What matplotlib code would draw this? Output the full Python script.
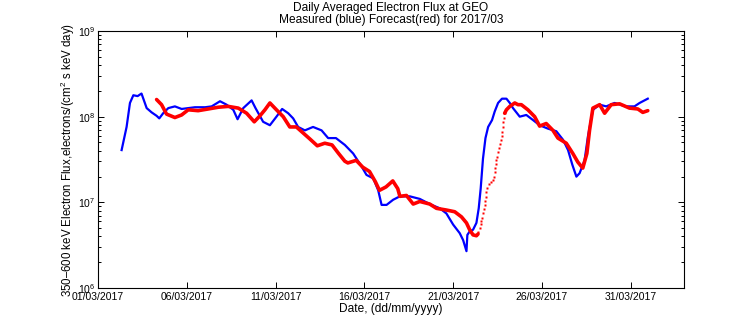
import numpy as np
import matplotlib
matplotlib.use("Agg")
import matplotlib.pyplot as plt
from matplotlib.ticker import LogLocator, NullFormatter, FixedLocator

plt.rcParams['font.family'] = ['Liberation Sans', 'DejaVu Sans']
plt.rcParams['mathtext.fontset'] = 'custom'
plt.rcParams['mathtext.rm'] = 'Liberation Sans'

# days since 01/03/2017 00:00, log10 flux
meas_days = [1.33, 1.61, 1.80, 1.99, 2.23, 2.45, 2.74, 3.02, 3.30, 3.45, 3.67, 3.96, 4.33, 4.71,
             5.46, 6.03, 6.40, 6.87, 7.24, 7.62, 7.86, 8.18, 8.65, 8.87, 9.30, 9.68, 10.05,
             10.37, 10.71, 10.99, 11.27, 11.65, 12.11, 12.59, 12.96, 13.40, 13.90, 14.37,
             14.84, 15.12, 15.50, 15.78, 15.97, 16.25, 16.62, 17.00, 17.56, 18.12, 18.68,
             19.25, 19.62, 20.00, 20.37, 20.56, 20.75, 20.80, 20.93, 21.12, 21.31, 21.44,
             21.55, 21.68, 21.82, 21.97, 22.19, 22.34, 22.53, 22.75, 23.00, 23.19, 23.37,
             23.75, 24.12, 24.50, 24.87, 25.34, 25.81, 26.19, 26.47, 26.71, 26.94, 27.12,
             27.40, 27.59, 27.87, 28.25, 28.62, 29.09, 29.74, 30.21, 30.50, 30.96]
meas_log10 = [7.61, 7.88, 8.16, 8.25, 8.24, 8.27, 8.10, 8.05, 8.01, 7.98, 8.04, 8.10, 8.12, 8.09,
              8.11, 8.11, 8.12, 8.18, 8.14, 8.08, 7.97, 8.10, 8.19, 8.10, 7.94, 7.90, 8.00,
              8.09, 8.04, 7.98, 7.88, 7.84, 7.88, 7.84, 7.75, 7.75, 7.67, 7.57,
              7.42, 7.32, 7.28, 7.14, 6.97, 6.97, 7.03, 7.07, 7.07, 7.04, 6.98,
              6.93, 6.87, 6.74, 6.64, 6.56, 6.43, 6.62, 6.66, 6.68, 6.76, 6.93,
              7.16, 7.51, 7.75, 7.88, 7.96, 8.06, 8.16, 8.21, 8.21, 8.16, 8.10,
              8.00, 8.02, 7.96, 7.90, 7.86, 7.83, 7.73, 7.61, 7.44, 7.30, 7.34,
              7.49, 7.77, 8.08, 8.14, 8.12, 8.16, 8.12, 8.12, 8.16, 8.21]

# forecast, densely sampled parts (NaN = gap where samples are sparse)
fc_days = [3.30, 3.58, 3.86, 4.33, 4.71, 5.08, 5.64, 6.21, 6.77, 7.33, 7.90, 8.37, 8.80, 9.12,
           9.40, 9.68, 10.05, 10.43, 10.80, 11.17, 11.55, 11.93, 12.35, 12.77, 13.18, 13.55,
           13.90, 14.07, 14.54, 14.91, 15.29, 15.62, 15.85, 16.22, 16.60, 16.88, 17.00, 17.37,
           17.75, 18.12, 18.68, 19.06, 19.62, 20.09, 20.47, 20.75, 20.93, 21.12, 21.31, 21.40,
           np.nan,
           22.90, 23.00, 23.19, 23.47, 23.65, 23.84, 24.21, 24.59, 24.87, 25.24, 25.62, 25.90,
           26.37, 26.74, 27.02, 27.30, 27.53, 27.68, 27.87, 28.25, 28.53, 28.90, 29.37, 29.93,
           30.40, 30.68, 30.96]
fc_log10 = [8.20, 8.14, 8.03, 7.99, 8.02, 8.08, 8.07, 8.09, 8.11, 8.12, 8.10, 8.04, 7.94, 8.01,
            8.08, 8.16, 8.08, 8.00, 7.88, 7.88, 7.81, 7.74, 7.66, 7.69, 7.67, 7.57,
            7.48, 7.46, 7.49, 7.41, 7.36, 7.24, 7.14, 7.18, 7.25, 7.16, 7.07, 7.08,
            6.98, 7.01, 6.98, 6.93, 6.91, 6.89, 6.83, 6.76, 6.68, 6.62, 6.61, 6.63,
            np.nan,
            8.04, 8.08, 8.12, 8.16, 8.14, 8.14, 8.08, 8.00, 7.89, 7.92, 7.84, 7.75,
            7.69, 7.57, 7.47, 7.40, 7.57, 7.84, 8.10, 8.14, 8.04, 8.14, 8.15, 8.10,
            8.09, 8.05, 8.07]

# forecast, sparsely sampled (individual dots) during the fast rise
fc_dot_days = [21.40, 21.50, 21.55, 21.59, 21.65, 21.68, 21.72, 21.78, 21.82, 21.84, 21.87, 21.93,
               22.02, 22.15, 22.25, 22.30, 22.34, 22.38, 22.40, 22.44, 22.49, 22.55, 22.61,
               22.66, 22.70, 22.73, 22.77, 22.81, 22.83, 22.85, 22.90]
fc_dot_log10 = [6.658, 6.705, 6.744, 6.783, 6.822, 6.873, 6.923, 6.970, 7.016, 7.067, 7.125, 7.172,
                7.211, 7.234, 7.261, 7.300, 7.351, 7.398, 7.444, 7.495, 7.534, 7.585, 7.631,
                7.678, 7.728, 7.778, 7.825, 7.883, 7.934, 7.988, 8.040]

xtick_days = [0, 5, 10, 15, 20, 25, 30]
xtick_labels = ['01/03/2017', '06/03/2017', '11/03/2017', '16/03/2017',
                '21/03/2017', '26/03/2017', '31/03/2017']

fig = plt.figure(figsize=(7.56, 3.24), dpi=100)
ax = fig.add_axes([98/756, 1 - 288/324, (684-98)/756, (288-31)/324])

ax.plot(meas_days, 10**np.array(meas_log10), color=(0, 0, 1), lw=1.6, zorder=2)
ax.plot(fc_days, 10**np.array(fc_log10), color=(1, 0, 0), lw=2.6, zorder=3,
        solid_capstyle='round', solid_joinstyle='round')
ax.plot(fc_dot_days, 10**np.array(fc_dot_log10), ls='none', marker='s', ms=2.0,
        mec='none', mfc=(1, 0, 0), zorder=3)

ax.set_yscale('log')
ax.set_ylim(1e6, 1e9)
ax.set_xlim(0, 33)
ax.xaxis.set_major_locator(FixedLocator(xtick_days))
ax.set_xticklabels(xtick_labels)
ax.yaxis.set_major_locator(LogLocator(base=10, numticks=10))
ax.yaxis.set_minor_locator(LogLocator(base=10, subs=np.arange(2, 10), numticks=20))
ax.yaxis.set_minor_formatter(NullFormatter())

ax.tick_params(which='both', direction='in', top=True, right=True, labelsize=7.5,
               width=0.7, colors='black')
ax.tick_params(which='major', length=4.5)
ax.tick_params(which='minor', length=2.5)
ax.tick_params(axis='x', pad=2.8)
ax.tick_params(axis='y', pad=2)
for s in ax.spines.values():
    s.set_linewidth(0.8)

ax.set_xlabel('Date, (dd/mm/yyyy)', fontsize=8.6, labelpad=1.0)
ax.set_ylabel('350\u2013600 keV Electron Flux,electrons/(cm$^2$ s keV day)', fontsize=8.3,
              labelpad=0.5)
ax.set_title('Daily Averaged Electron Flux at GEO\nMeasured (blue) Forecast(red) for 2017/03',
             fontsize=8.6, pad=6, linespacing=0.95)

fig.savefig('out.png', dpi=100)
